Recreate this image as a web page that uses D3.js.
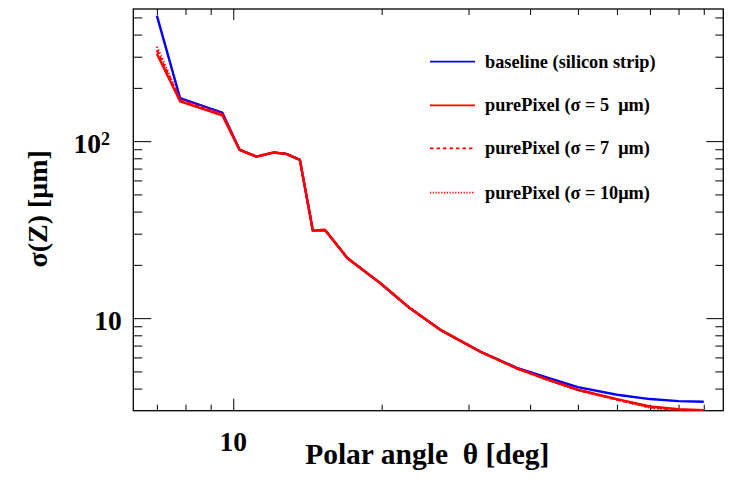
<!DOCTYPE html>
<html>
<head>
<meta charset="utf-8">
<script src="https://cdn.jsdelivr.net/npm/d3@7"></script>
<style>
  body { margin: 0; background: #fff; }
  svg { display: block; font-family: "Liberation Serif", "Times New Roman", serif; font-weight: bold; }
  .axis path { stroke: none; }
  .axis line { stroke: #000; stroke-width: 1; }
  text { white-space: pre; }
</style>
</head>
<body>
<svg class="chart"></svg>
<script>
// polar angle of every point [deg]
var angles = [7.0, 7.8, 9.5, 10.3, 11.15, 12.05, 12.8, 13.65, 14.5, 15.35, 17.05,
              19.85, 22.8, 26.3, 31.7, 37.6, 43.2, 50, 60, 70, 80, 90];

// sigma(Z) [um] per layout
var baseline = [512, 175, 145, 89.3, 81.8, 86.2, 84.8, 78.4, 31.3, 31.5, 21.8,
                15.8, 11.4, 8.59, 6.48, 5.24, 4.62, 4.08, 3.69, 3.49, 3.40, 3.37];
var pix5     = [312, 168, 140, 89.3, 81.8, 86.2, 84.8, 78.4, 31.3, 31.5, 21.8,
                15.8, 11.4, 8.59, 6.46, 5.20, 4.52, 3.94, 3.49, 3.17, 3.06, 3.02];
var pix7     = [326, 170, 141.5, 89.3, 81.8, 86.2, 84.8, 78.4, 31.3, 31.5, 21.8,
                15.8, 11.4, 8.59, 6.46, 5.20, 4.51, 3.93, 3.47, 3.14, 3.03, 2.99];
var pix10    = [342, 172, 143, 89.3, 81.8, 86.2, 84.8, 78.4, 31.3, 31.5, 21.8,
                15.8, 11.4, 8.59, 6.46, 5.19, 4.50, 3.92, 3.46, 3.12, 3.01, 2.97];

var legendLabels = ["baseline (silicon strip)", "purePixel (\u03c3 = 5  \u03bcm)",
                    "purePixel (\u03c3 = 7  \u03bcm)", "purePixel (\u03c3 = 10\u03bcm)"];

// ticks
var xMajorTicks = [10];
var xMinorTicks = [7, 8, 9, 20, 30, 40, 50, 60, 70, 80, 90];
var yMajorTicks = [10, 100];
var yMinorTicks = [4, 5, 6, 7, 8, 9, 20, 30, 40, 50, 60, 70, 80, 90, 200, 300, 400, 500];

var xDomain = [6.27, 98.6], yDomain = [3.0, 558];

var W = 736, H = 479;
var frame = {left: 133.3, right: 723.3, top: 9, bottom: 410.7};

var svg = d3.select(".chart").attr("width", W).attr("height", H);

var x = d3.scaleLog().domain(xDomain).range([frame.left, frame.right]);
var y = d3.scaleLog().domain(yDomain).range([frame.bottom, frame.top]);

// axes: major and minor ticks drawn on all four sides, pointing inwards
function drawAxis(axisFn, scale, values, size, tx, ty) {
    svg.append("g")
        .attr("class", "axis")
        .attr("transform", "translate(" + tx + "," + ty + ")")
        .call(axisFn(scale).tickValues(values).tickSize(size).tickSizeOuter(0).tickFormat(""));
}
drawAxis(d3.axisBottom, x, xMajorTicks, -12, 0, frame.bottom);
drawAxis(d3.axisBottom, x, xMinorTicks, -6, 0, frame.bottom);
drawAxis(d3.axisTop, x, xMajorTicks, -11, 0, frame.top);
drawAxis(d3.axisTop, x, xMinorTicks, -6, 0, frame.top);
drawAxis(d3.axisLeft, y, yMajorTicks, -18, frame.left, 0);
drawAxis(d3.axisLeft, y, yMinorTicks, -9, frame.left, 0);
drawAxis(d3.axisRight, y, yMajorTicks, -17, frame.right, 0);
drawAxis(d3.axisRight, y, yMinorTicks, -8, frame.right, 0);

svg.append("rect")
    .attr("x", frame.left).attr("y", frame.top)
    .attr("width", frame.right - frame.left)
    .attr("height", frame.bottom - frame.top)
    .attr("fill", "none").attr("stroke", "#000").attr("stroke-width", 1.3);

// tick labels
svg.selectAll(".xlab").data(xMajorTicks).enter().append("text")
    .attr("class", "xlab")
    .attr("x", function(d) { return x(d); })
    .attr("y", 450.5)
    .attr("text-anchor", "middle")
    .attr("font-size", 27.5)
    .text(function(d) { return d; });

var ylab = svg.selectAll(".ylab").data(yMajorTicks).enter().append("text")
    .attr("class", "ylab")
    .attr("x", function(d) { return d === 100 ? 110 : 121.7; })
    .attr("y", function(d) { return y(d) + 12; })
    .attr("text-anchor", "end")
    .attr("font-size", 27.5);
ylab.append("tspan").text("10");
ylab.filter(function(d) { return d === 100; })
    .append("tspan").attr("dy", -8.5).attr("font-size", 18).text("2");

// axis titles
svg.append("text")
    .attr("x", (frame.left + frame.right) / 2 - 1)
    .attr("y", 464)
    .attr("text-anchor", "middle")
    .attr("font-size", 29.5)
    .text("Polar angle  \u03b8 [deg]");

svg.append("text")
    .attr("transform", "translate(47," + ((frame.top + frame.bottom) / 2 - 1) + ") rotate(-90)")
    .attr("text-anchor", "middle")
    .attr("font-size", 28)
    .text("\u03c3(Z) [\u03bcm]");

// curves
svg.append("clipPath").attr("id", "clip")
    .append("rect")
    .attr("x", frame.left).attr("y", frame.top)
    .attr("width", frame.right - frame.left)
    .attr("height", frame.bottom - frame.top);

var line = d3.line()
    .x(function(d) { return x(d[0]); })
    .y(function(d) { return y(d[1]); });

var series = [
    {values: baseline, color: "#0000ff", dash: null},
    {values: pix10, color: "#ff0000", dash: "1.2,2"},
    {values: pix7, color: "#ff0000", dash: "4,3"},
    {values: pix5, color: "#ff0000", dash: null}
];

svg.append("g").attr("clip-path", "url(#clip)")
    .selectAll("path").data(series).enter().append("path")
    .attr("d", function(s) { return line(d3.zip(angles, s.values)); })
    .attr("fill", "none")
    .attr("stroke", function(s) { return s.color; })
    .attr("stroke-width", 2.4)
    .attr("stroke-linejoin", "round")
    .attr("stroke-dasharray", function(s) { return s.dash; });

// legend
var legendStyle = [
    {color: "#0000ff", dash: null},
    {color: "#ff0000", dash: null},
    {color: "#ff0000", dash: "3.5,3"},
    {color: "#ff0000", dash: "1.2,1.6"}
];
var legendY = [61.7, 105.3, 148.3, 192.7];

var legend = svg.selectAll(".leg").data(legendLabels).enter().append("g")
    .attr("class", "leg")
    .attr("transform", function(d, i) { return "translate(0," + legendY[i] + ")"; });

legend.append("line")
    .attr("x1", 430).attr("x2", 475)
    .attr("stroke", function(d, i) { return legendStyle[i].color; })
    .attr("stroke-width", 1.8)
    .attr("stroke-dasharray", function(d, i) { return legendStyle[i].dash; });

legend.append("text")
    .attr("x", 485)
    .attr("y", 6)
    .attr("font-size", 18.3)
    .text(function(d) { return d; });
</script>
</body>
</html>
